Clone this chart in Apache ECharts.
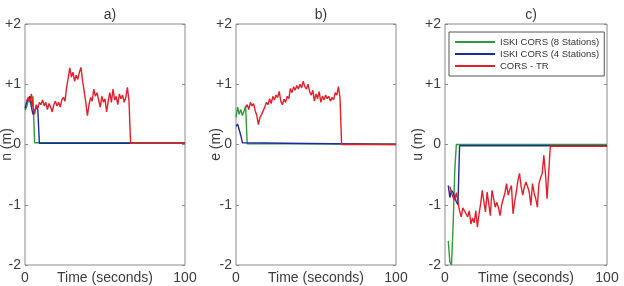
<!DOCTYPE html>
<html>
<head>
<meta charset="UTF-8">
<title></title>
<script src="https://cdn.jsdelivr.net/npm/echarts@6/dist/echarts.min.js"></script>
<style>
  html, body { margin: 0; padding: 0; background: #fff; }
  #main { width: 624px; height: 286px; }
</style>
</head>
<body>
<div id="main"></div>
<script>
// labels
var panelTitles = ['a)', 'b)', 'c)'];
var yNames = ['n (m)', 'e (m)', 'u (m)'];
var seriesNames = ['ISKI CORS (8 Stations)', 'ISKI CORS (4 Stations)', 'CORS - TR'];
var yTickLabels = {'2': '+2', '1': '+1', '0': '0', '-1': '-1', '-2': '-2'};
var tEnd = 100;

// a) n component, one value per second from the start time
var nGreenStart = 0;
var nGreen = [0.57, 0.62, 0.72, 0.80, 0.66, 0.80, 0.03];
var nBlueStart = 0;
var nBlue = [0.60, 0.70, 0.76, 0.80, 0.62, 0.50, 0.55, 0.62, 0.58, 0.02];
var nRedStart = 1;
var nRed = [0.72, 0.78, 0.70, 0.84, 0.62, 0.50, 0.66, 0.60, 0.70, 0.66,
  0.74, 0.64, 0.70, 0.58, 0.68, 0.62, 0.54, 0.66, 0.72, 0.64,
  0.70, 0.62, 0.74, 0.78, 0.72, 0.95, 1.10, 1.27, 1.12, 1.20,
  1.05, 1.15, 1.08, 1.20, 1.28, 1.05, 0.88, 0.70, 0.48, 0.66,
  0.78, 0.72, 0.92, 0.80, 0.86, 0.74, 0.62, 0.80, 0.70, 0.76,
  0.54, 0.72, 0.86, 0.70, 0.92, 0.74, 0.80, 0.66, 0.84, 0.76,
  0.82, 0.70, 0.78, 0.95, 0.72, 0.02];

// b) e component
var eGreenStart = 0;
var eGreen = [0.45, 0.62, 0.50, 0.58, 0.48, 0.55, 0.64, 0.01];
var eBlueStart = 0;
var eBlue = [0.30, 0.34, 0.37, 0.15, 0.03, 0.00];
var eRedStart = 6;
var eRed = [0.62, 0.66, 0.58, 0.70, 0.64, 0.68, 0.56, 0.48, 0.33, 0.45,
  0.50, 0.52, 0.62, 0.70, 0.66, 0.76, 0.68, 0.80, 0.74, 0.82,
  0.78, 0.88, 0.72, 0.66, 0.75, 0.70, 0.80, 0.76, 0.93, 0.86,
  0.96, 0.90, 0.98, 0.92, 1.00, 0.94, 1.05, 0.96, 0.92, 1.00,
  0.88, 0.82, 0.90, 0.72, 0.84, 0.76, 0.88, 0.70, 0.80, 0.74,
  0.82, 0.76, 0.80, 0.72, 0.78, 0.74, 0.86, 0.82, 0.96, 0.78, 0.00];

// c) u component
var uGreenStart = 2;
var uGreen = [-1.60, -1.95, -2.00, -1.35, -0.45, 0.00];
var uBlueStart = 2;
var uBlue = [-0.68, -0.88, -0.76, -0.80, -0.88, -0.95, -1.00, -0.02];
var uRedStart = 3;
var uRed = [-0.70, -0.80, -0.88, -0.92, -0.80, -0.95, -1.10, -1.20, -1.05, -1.04,
  -1.15, -1.20, -1.10, -1.32, -1.22, -1.30, -1.10, -1.37, -1.15, -0.98,
  -0.76, -0.95, -1.12, -0.79, -0.98, -1.18, -0.76, -0.90, -1.04, -0.96,
  -1.05, -1.18, -1.00, -0.98, -0.80, -0.65, -0.84, -0.75, -0.68, -1.15,
  -0.95, -0.79, -0.60, -0.48, -0.70, -0.84, -0.70, -0.62, -0.70, -0.79,
  -1.01, -0.65, -0.80, -0.90, -1.04, -0.65, -0.55, -0.48, -0.18, -0.48,
  -0.90, -0.93, -0.03];

var colors = ['#2f9a3a', '#1c2c9c', '#e2202c'];
var textColor = '#3c3c3c';
var fontFam = 'Liberation Sans, Arial, sans-serif';

// series points: one per second, flat tail held to the end of the record
function pts(start, vals) {
  var out = vals.map(function (v, i) { return [start + i, v]; });
  out.push([tEnd, vals[vals.length - 1]]);
  return out;
}

var panels = [
  [pts(nGreenStart, nGreen), pts(nBlueStart, nBlue), pts(nRedStart, nRed)],
  [pts(eGreenStart, eGreen), pts(eBlueStart, eBlue), pts(eRedStart, eRed)],
  [pts(uGreenStart, uGreen), pts(uBlueStart, uBlue), pts(uRedStart, uRed)]
];

var gridPos = [
  {left: 25, right: 439},
  {left: 236, right: 228},
  {left: 445, right: 17}
];
var nameGaps = [11, 13, 20];

var grids = [], xAxes = [], yAxes = [], titles = [], series = [];
gridPos.forEach(function (g, p) {
  grids.push({
    left: g.left, right: g.right, top: 24, bottom: 21,
    outerBoundsMode: 'none', containLabel: false,
    show: true, borderColor: '#8a8a8a', borderWidth: 1, backgroundColor: '#fff'
  });
  titles.push({
    text: panelTitles[p],
    left: (g.left + 624 - g.right) / 2, top: 3, textAlign: 'center',
    textStyle: {fontSize: 14, fontWeight: 'normal', color: textColor, fontFamily: fontFam}
  });
  xAxes.push({
    type: 'value', gridIndex: p, min: 0, max: 100, interval: 100,
    name: 'Time (seconds)', nameLocation: 'middle', nameGap: 6, nameMoveOverlap: false,
    nameTextStyle: {fontSize: 14, color: textColor, fontFamily: fontFam, verticalAlign: 'top'},
    axisLine: {show: false}, axisTick: {show: false}, splitLine: {show: false},
    axisLabel: {fontSize: 14, color: textColor, fontFamily: fontFam, margin: 6}
  });
  yAxes.push({
    type: 'value', gridIndex: p, min: -2, max: 2, interval: 1, position: 'left',
    name: yNames[p], nameLocation: 'middle', nameGap: nameGaps[p], nameMoveOverlap: false,
    nameTextStyle: {fontSize: 14, color: textColor, fontFamily: fontFam},
    axisLine: {show: false}, splitLine: {show: false},
    axisTick: {show: true, inside: true, length: 3, lineStyle: {color: '#8a8a8a'}},
    axisLabel: {fontSize: 14, color: textColor, fontFamily: fontFam, margin: 4,
      formatter: function (v) { return yTickLabels[String(v)]; }}
  });
  yAxes.push({
    type: 'value', gridIndex: p, min: -2, max: 2, interval: 1, position: 'right',
    axisLine: {show: false}, splitLine: {show: false}, axisLabel: {show: false},
    axisTick: {show: true, inside: true, length: 3, lineStyle: {color: '#8a8a8a'}}
  });
  panels[p].forEach(function (d, s) {
    series.push({
      name: seriesNames[s], type: 'line', xAxisIndex: p, yAxisIndex: p * 2,
      data: d, symbol: 'none', clip: true,
      lineStyle: {color: colors[s], width: 1.4},
      itemStyle: {color: colors[s]}
    });
  });
});

var chart = echarts.init(document.getElementById('main'), null, {renderer: 'canvas'});
chart.setOption({
  backgroundColor: '#fff',
  animation: false,
  title: titles,
  grid: grids,
  xAxis: xAxes,
  yAxis: yAxes,
  legend: {
    data: seriesNames, orient: 'vertical', left: 449, top: 32,
    backgroundColor: '#fff', borderColor: '#555', borderWidth: 1,
    padding: [4, 5, 4, 6], itemGap: 0, itemWidth: 40, itemHeight: 2, icon: 'rect',
    textStyle: {fontSize: 9.5, color: '#333', fontFamily: fontFam, lineHeight: 12}
  },
  series: series
});
</script>
</body>
</html>
